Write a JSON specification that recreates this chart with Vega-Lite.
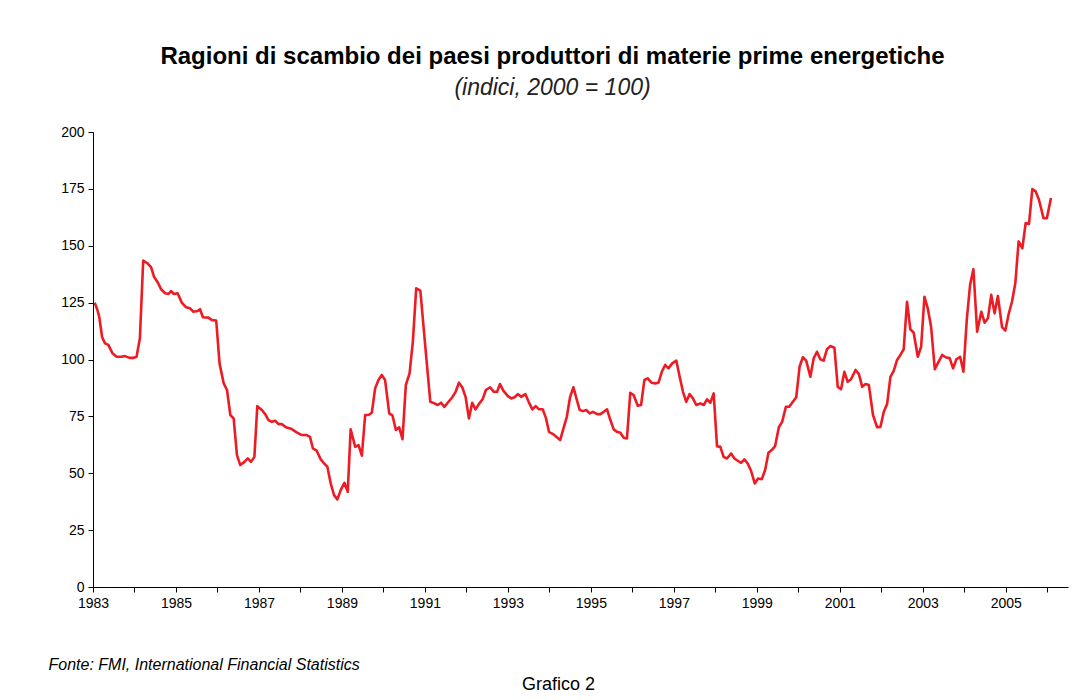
{
  "$schema": "https://vega.github.io/schema/vega-lite/v6.json",
  "width": 975,
  "height": 455,
  "autosize": {"type": "none"},
  "padding": {"left": 93, "top": 132, "right": 21, "bottom": 113},
  "background": "white",
  "config": {
    "view": {"stroke": null},
    "font": "Liberation Sans"
  },
  "title": {
    "text": "Ragioni di scambio dei paesi produttori di materie prime energetiche",
    "subtitle": "(indici, 2000 = 100)",
    "anchor": "middle",
    "dx": -28,
    "offset": 25,
    "font": "Liberation Sans",
    "fontSize": 24,
    "fontWeight": "bold",
    "color": "#000000",
    "subtitleFont": "Liberation Sans",
    "subtitleFontSize": 23,
    "subtitleFontStyle": "italic",
    "subtitleColor": "#222222",
    "subtitlePadding": 8
  },
  "data": {
    "values": [
      {"t": 1983.04, "v": 125.0}, {"t": 1983.10, "v": 122.1}, {"t": 1983.15, "v": 118.8}, {"t": 1983.22, "v": 109.8},
      {"t": 1983.29, "v": 107.1}, {"t": 1983.37, "v": 106.4}, {"t": 1983.47, "v": 102.7}, {"t": 1983.57, "v": 101.2},
      {"t": 1983.69, "v": 101.2}, {"t": 1983.77, "v": 101.5}, {"t": 1983.88, "v": 100.7}, {"t": 1983.97, "v": 100.7},
      {"t": 1984.05, "v": 101.2}, {"t": 1984.13, "v": 109.3}, {"t": 1984.21, "v": 143.5}, {"t": 1984.31, "v": 142.3},
      {"t": 1984.40, "v": 140.6}, {"t": 1984.47, "v": 136.4}, {"t": 1984.55, "v": 134.2}, {"t": 1984.64, "v": 130.9},
      {"t": 1984.74, "v": 129.1}, {"t": 1984.82, "v": 128.8}, {"t": 1984.88, "v": 130.1}, {"t": 1984.95, "v": 128.8},
      {"t": 1985.04, "v": 129.1}, {"t": 1985.14, "v": 125.0}, {"t": 1985.24, "v": 123.0}, {"t": 1985.34, "v": 122.5},
      {"t": 1985.42, "v": 121.0}, {"t": 1985.52, "v": 121.3}, {"t": 1985.58, "v": 122.1}, {"t": 1985.65, "v": 118.6},
      {"t": 1985.78, "v": 118.4}, {"t": 1985.86, "v": 117.4}, {"t": 1985.97, "v": 117.1}, {"t": 1986.05, "v": 98.3},
      {"t": 1986.15, "v": 89.5}, {"t": 1986.23, "v": 86.6}, {"t": 1986.31, "v": 75.6}, {"t": 1986.39, "v": 74.1},
      {"t": 1986.47, "v": 58.0}, {"t": 1986.55, "v": 53.6}, {"t": 1986.65, "v": 55.0}, {"t": 1986.73, "v": 56.5},
      {"t": 1986.81, "v": 55.0}, {"t": 1986.89, "v": 57.2}, {"t": 1986.96, "v": 79.5}, {"t": 1987.07, "v": 77.8},
      {"t": 1987.15, "v": 76.0}, {"t": 1987.23, "v": 73.4}, {"t": 1987.31, "v": 72.6}, {"t": 1987.39, "v": 73.1},
      {"t": 1987.47, "v": 71.6}, {"t": 1987.55, "v": 71.6}, {"t": 1987.65, "v": 70.2}, {"t": 1987.79, "v": 69.4},
      {"t": 1987.91, "v": 68.0}, {"t": 1988.03, "v": 66.8}, {"t": 1988.15, "v": 66.8}, {"t": 1988.23, "v": 66.0},
      {"t": 1988.30, "v": 60.9}, {"t": 1988.39, "v": 59.9}, {"t": 1988.49, "v": 56.1}, {"t": 1988.57, "v": 54.3},
      {"t": 1988.65, "v": 52.8}, {"t": 1988.73, "v": 45.5}, {"t": 1988.81, "v": 40.4}, {"t": 1988.89, "v": 38.5},
      {"t": 1988.97, "v": 42.6}, {"t": 1989.06, "v": 45.8}, {"t": 1989.14, "v": 41.8}, {"t": 1989.21, "v": 69.3},
      {"t": 1989.32, "v": 61.6}, {"t": 1989.40, "v": 62.4}, {"t": 1989.48, "v": 57.7}, {"t": 1989.56, "v": 75.6},
      {"t": 1989.64, "v": 75.6}, {"t": 1989.72, "v": 76.6}, {"t": 1989.80, "v": 87.3}, {"t": 1989.88, "v": 91.0},
      {"t": 1989.96, "v": 93.2}, {"t": 1990.04, "v": 91.0}, {"t": 1990.14, "v": 76.3}, {"t": 1990.22, "v": 75.3},
      {"t": 1990.30, "v": 69.0}, {"t": 1990.38, "v": 70.2}, {"t": 1990.46, "v": 65.0}, {"t": 1990.54, "v": 88.8},
      {"t": 1990.63, "v": 93.9}, {"t": 1990.71, "v": 108.0}, {"t": 1990.79, "v": 131.3}, {"t": 1990.89, "v": 130.3},
      {"t": 1991.01, "v": 105.6}, {"t": 1991.13, "v": 81.4}, {"t": 1991.23, "v": 80.7}, {"t": 1991.31, "v": 80.0},
      {"t": 1991.39, "v": 81.0}, {"t": 1991.47, "v": 79.2}, {"t": 1991.55, "v": 81.0}, {"t": 1991.66, "v": 83.4},
      {"t": 1991.74, "v": 85.8}, {"t": 1991.82, "v": 89.8}, {"t": 1991.90, "v": 87.8}, {"t": 1991.98, "v": 83.6},
      {"t": 1992.06, "v": 74.1}, {"t": 1992.14, "v": 81.0}, {"t": 1992.22, "v": 78.1}, {"t": 1992.30, "v": 80.4},
      {"t": 1992.39, "v": 82.5}, {"t": 1992.47, "v": 86.6}, {"t": 1992.57, "v": 87.8}, {"t": 1992.66, "v": 85.8},
      {"t": 1992.74, "v": 85.8}, {"t": 1992.81, "v": 89.2}, {"t": 1992.89, "v": 86.3}, {"t": 1993.00, "v": 83.9},
      {"t": 1993.08, "v": 82.9}, {"t": 1993.16, "v": 83.4}, {"t": 1993.24, "v": 84.8}, {"t": 1993.32, "v": 83.6},
      {"t": 1993.42, "v": 84.8}, {"t": 1993.50, "v": 81.4}, {"t": 1993.59, "v": 78.1}, {"t": 1993.67, "v": 79.5},
      {"t": 1993.75, "v": 78.1}, {"t": 1993.84, "v": 78.1}, {"t": 1993.92, "v": 74.1}, {"t": 1993.99, "v": 68.2},
      {"t": 1994.10, "v": 67.1}, {"t": 1994.18, "v": 65.8}, {"t": 1994.26, "v": 64.6}, {"t": 1994.34, "v": 69.7},
      {"t": 1994.42, "v": 74.8}, {"t": 1994.50, "v": 83.6}, {"t": 1994.58, "v": 87.8}, {"t": 1994.65, "v": 83.0},
      {"t": 1994.73, "v": 77.8}, {"t": 1994.81, "v": 77.3}, {"t": 1994.89, "v": 77.8}, {"t": 1994.97, "v": 76.3},
      {"t": 1995.05, "v": 77.0}, {"t": 1995.15, "v": 76.0}, {"t": 1995.23, "v": 76.0}, {"t": 1995.31, "v": 77.0},
      {"t": 1995.39, "v": 78.1}, {"t": 1995.47, "v": 73.4}, {"t": 1995.55, "v": 69.3}, {"t": 1995.63, "v": 68.2},
      {"t": 1995.71, "v": 67.8}, {"t": 1995.79, "v": 65.6}, {"t": 1995.87, "v": 65.3}, {"t": 1995.95, "v": 85.4},
      {"t": 1996.03, "v": 84.4}, {"t": 1996.13, "v": 79.7}, {"t": 1996.21, "v": 80.0}, {"t": 1996.29, "v": 91.0},
      {"t": 1996.37, "v": 91.7}, {"t": 1996.46, "v": 89.8}, {"t": 1996.55, "v": 89.5}, {"t": 1996.63, "v": 89.8},
      {"t": 1996.71, "v": 94.6}, {"t": 1996.79, "v": 97.6}, {"t": 1996.87, "v": 96.1}, {"t": 1996.96, "v": 98.3},
      {"t": 1997.06, "v": 99.5}, {"t": 1997.14, "v": 92.4}, {"t": 1997.22, "v": 85.8}, {"t": 1997.30, "v": 81.4},
      {"t": 1997.38, "v": 84.8}, {"t": 1997.46, "v": 82.9}, {"t": 1997.54, "v": 80.0}, {"t": 1997.64, "v": 80.7},
      {"t": 1997.72, "v": 80.0}, {"t": 1997.80, "v": 82.5}, {"t": 1997.88, "v": 81.0}, {"t": 1997.96, "v": 85.1},
      {"t": 1998.04, "v": 61.9}, {"t": 1998.12, "v": 61.6}, {"t": 1998.20, "v": 57.2}, {"t": 1998.28, "v": 56.5},
      {"t": 1998.38, "v": 58.7}, {"t": 1998.46, "v": 56.5}, {"t": 1998.54, "v": 55.5}, {"t": 1998.62, "v": 54.6},
      {"t": 1998.70, "v": 56.1}, {"t": 1998.78, "v": 54.3}, {"t": 1998.86, "v": 51.1}, {"t": 1998.95, "v": 45.5},
      {"t": 1999.03, "v": 47.7}, {"t": 1999.12, "v": 47.4}, {"t": 1999.20, "v": 51.4}, {"t": 1999.28, "v": 59.0},
      {"t": 1999.36, "v": 60.2}, {"t": 1999.44, "v": 61.9}, {"t": 1999.53, "v": 70.2}, {"t": 1999.61, "v": 72.6},
      {"t": 1999.70, "v": 79.2}, {"t": 1999.78, "v": 79.2}, {"t": 1999.87, "v": 81.4}, {"t": 1999.95, "v": 83.4},
      {"t": 2000.03, "v": 96.8}, {"t": 2000.11, "v": 101.0}, {"t": 2000.19, "v": 99.5}, {"t": 2000.29, "v": 92.4},
      {"t": 2000.37, "v": 100.5}, {"t": 2000.45, "v": 103.4}, {"t": 2000.53, "v": 100.1}, {"t": 2000.61, "v": 99.5},
      {"t": 2000.69, "v": 104.5}, {"t": 2000.77, "v": 105.9}, {"t": 2000.87, "v": 105.2}, {"t": 2000.95, "v": 88.0},
      {"t": 2001.03, "v": 86.9}, {"t": 2001.11, "v": 94.6}, {"t": 2001.19, "v": 90.2}, {"t": 2001.27, "v": 91.3},
      {"t": 2001.38, "v": 95.4}, {"t": 2001.46, "v": 93.6}, {"t": 2001.54, "v": 88.0}, {"t": 2001.62, "v": 89.2},
      {"t": 2001.70, "v": 88.8}, {"t": 2001.80, "v": 75.6}, {"t": 2001.90, "v": 70.2}, {"t": 2001.98, "v": 70.4},
      {"t": 2002.06, "v": 77.0}, {"t": 2002.14, "v": 80.4}, {"t": 2002.22, "v": 92.4}, {"t": 2002.30, "v": 95.0},
      {"t": 2002.38, "v": 99.8}, {"t": 2002.46, "v": 102.0}, {"t": 2002.54, "v": 104.5}, {"t": 2002.62, "v": 125.4},
      {"t": 2002.70, "v": 113.3}, {"t": 2002.78, "v": 111.8}, {"t": 2002.88, "v": 101.2}, {"t": 2002.96, "v": 105.6},
      {"t": 2003.04, "v": 127.6}, {"t": 2003.12, "v": 122.5}, {"t": 2003.20, "v": 114.4}, {"t": 2003.29, "v": 95.7},
      {"t": 2003.37, "v": 98.6}, {"t": 2003.47, "v": 102.0}, {"t": 2003.55, "v": 101.0}, {"t": 2003.65, "v": 100.5},
      {"t": 2003.73, "v": 96.1}, {"t": 2003.81, "v": 100.1}, {"t": 2003.90, "v": 101.2}, {"t": 2003.98, "v": 94.6},
      {"t": 2004.06, "v": 117.4}, {"t": 2004.14, "v": 132.8}, {"t": 2004.22, "v": 139.7}, {"t": 2004.31, "v": 112.2},
      {"t": 2004.41, "v": 121.0}, {"t": 2004.49, "v": 116.2}, {"t": 2004.57, "v": 118.1}, {"t": 2004.65, "v": 128.4},
      {"t": 2004.73, "v": 120.3}, {"t": 2004.81, "v": 127.9}, {"t": 2004.91, "v": 114.2}, {"t": 2004.99, "v": 112.7},
      {"t": 2005.07, "v": 120.0}, {"t": 2005.15, "v": 125.4}, {"t": 2005.23, "v": 133.5}, {"t": 2005.31, "v": 151.9},
      {"t": 2005.40, "v": 148.9}, {"t": 2005.48, "v": 160.0}, {"t": 2005.56, "v": 159.6}, {"t": 2005.64, "v": 174.9},
      {"t": 2005.72, "v": 173.9}, {"t": 2005.80, "v": 170.2}, {"t": 2005.91, "v": 162.1}, {"t": 2005.99, "v": 162.1},
      {"t": 2006.09, "v": 171.0}
    ]
  },
  "mark": {"type": "line", "color": "#ED1C24", "strokeWidth": 2.6, "strokeJoin": "round"},
  "encoding": {
    "x": {
      "field": "t",
      "type": "quantitative",
      "scale": {"domain": [1983, 2006.5], "nice": false, "zero": false},
      "axis": {
        "values": [1983, 1984, 1985, 1986, 1987, 1988, 1989, 1990, 1991, 1992, 1993, 1994, 1995, 1996, 1997, 1998, 1999, 2000, 2001, 2002, 2003, 2004, 2005, 2006],
        "labelExpr": "datum.value % 2 == 1 ? format(datum.value, 'd') : ''",
        "labelOverlap": false,
        "labelFlush": false,
        "labelFontSize": 14,
        "labelColor": "#000000",
        "labelPadding": 4,
        "tickSize": 5,
        "tickColor": "#000000",
        "domainColor": "#000000",
        "grid": false,
        "title": "Grafico 2",
        "titleFontSize": 18,
        "titleFontWeight": "normal",
        "titleColor": "#000000",
        "titleX": 465,
        "titleY": 102,
        "titleAlign": "center",
        "titleBaseline": "alphabetic"
      }
    },
    "y": {
      "field": "v",
      "type": "quantitative",
      "scale": {"domain": [0, 200], "nice": false},
      "axis": {
        "values": [0, 25, 50, 75, 100, 125, 150, 175, 200],
        "labelFontSize": 14,
        "labelColor": "#000000",
        "labelPadding": 4,
        "tickSize": 5,
        "tickColor": "#000000",
        "domainColor": "#000000",
        "grid": false,
        "title": "Fonte:  FMI, International Financial Statistics",
        "titleAngle": 0,
        "titleX": -45,
        "titleY": 537,
        "titleAlign": "left",
        "titleBaseline": "alphabetic",
        "titleFontSize": 16,
        "titleFontWeight": "normal",
        "titleFontStyle": "italic",
        "titleColor": "#000000"
      }
    }
  }
}
